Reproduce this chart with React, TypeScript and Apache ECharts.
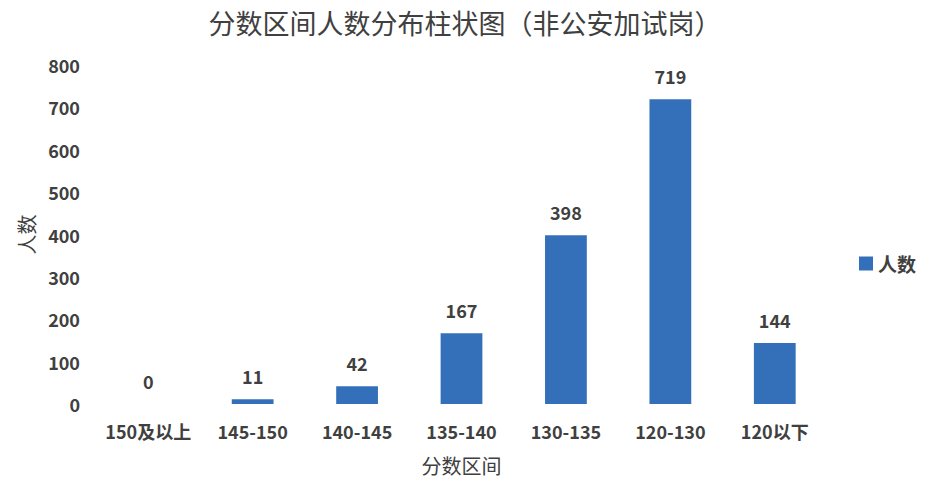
import React, { useEffect, useRef } from "react";
import * as echarts from "echarts";

const categories = ["150及以上", "145-150", "140-145", "135-140", "130-135", "120-130", "120以下"];
const values = [0, 11, 42, 167, 398, 719, 144];
const seriesName = "人数";
const titleText = "分数区间人数分布柱状图（非公安加试岗）";
const xName = "分数区间";
const yName = "人数";

export default function App() {
  const ref = useRef<HTMLDivElement>(null);
  useEffect(() => {
    if (!ref.current) return;
    const chart = echarts.init(ref.current, null, { renderer: "svg" });
    const cjk = '"Noto Sans CJK SC", "Noto Sans", sans-serif';
    chart.setOption({
      animation: false,
      backgroundColor: "#ffffff",
      title: {
        text: titleText,
        left: "center",
        top: 4,
        textStyle: { fontFamily: cjk, fontSize: 27, fontWeight: "normal", color: "#404040" },
      },
      legend: {
        data: [seriesName],
        left: 854,
        top: 249,
        itemWidth: 14,
        itemHeight: 14,
        itemGap: 8,
        icon: "rect",
        textStyle: { fontFamily: cjk, fontSize: 19, color: "#404040", fontWeight: "bold" },
      },
      grid: { left: 96, right: 103, top: 65, bottom: 92, containLabel: false },
      xAxis: {
        type: "category",
        data: categories,
        name: xName,
        nameLocation: "middle",
        nameGap: 51,
        nameTextStyle: { fontFamily: cjk, fontSize: 20, color: "#404040" },
        axisLine: { show: false },
        axisTick: { show: false },
        axisLabel: {
          interval: 0,
          fontFamily: cjk,
          fontSize: 18,
          fontWeight: "bold",
          color: "#404040",
          margin: 18,
        },
      },
      yAxis: {
        type: "value",
        min: 0,
        max: 800,
        interval: 100,
        name: yName,
        nameLocation: "middle",
        nameRotate: 90,
        nameGap: 60,
        nameTextStyle: { fontFamily: cjk, fontSize: 20, color: "#404040" },
        axisLine: { show: false },
        axisTick: { show: false },
        splitLine: { show: false },
        axisLabel: { fontFamily: cjk, fontSize: 18, fontWeight: "bold", color: "#404040", margin: 16 },
      },
      series: [
        {
          name: seriesName,
          type: "bar",
          data: values,
          barWidth: "40%",
          itemStyle: { color: "#3470BA" },
          label: {
            show: true,
            position: "top",
            distance: 14,
            fontFamily: cjk,
            fontSize: 18,
            fontWeight: "bold",
            color: "#404040",
          },
        },
      ],
    });
    return () => chart.dispose();
  }, []);
  return (
    <div
      ref={ref}
      style={{ position: "absolute", left: 0, top: 0, width: 930, height: 496 }}
    />
  );
}
